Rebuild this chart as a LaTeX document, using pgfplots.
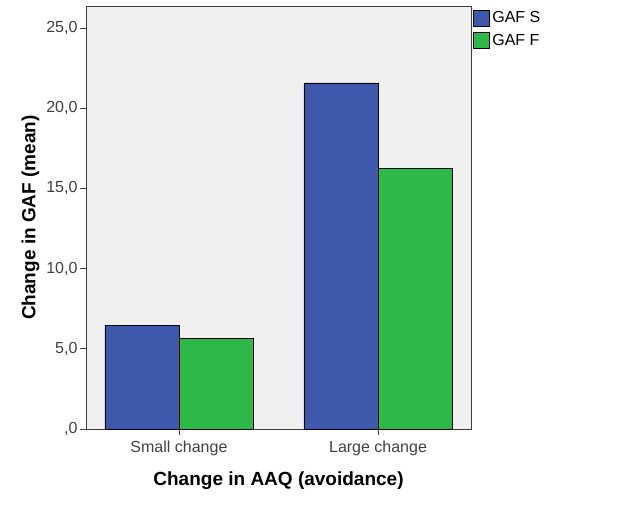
\documentclass[border=0pt]{standalone}
\usepackage{fontspec}
\setmainfont{Liberation Sans}
\usepackage{pgfplots}
\pgfplotsset{compat=1.18}
\definecolor{gafs}{HTML}{3E58AC}
\definecolor{gaff}{HTML}{2EB848}
\definecolor{bg}{HTML}{F0F0F0}
\definecolor{frame}{HTML}{3C3C3C}

\begin{document}
\begin{tikzpicture}[x=1pt,y=1pt]
\path[use as bounding box] (0,0) rectangle (629,504);
\begin{axis}[
    at={(86pt,75pt)}, anchor=south west,
    scale only axis,
    width=385pt, height=423pt,
    xmin=-0.467, xmax=1.467,
    ymin=0, ymax=26.37,
    xtick={0,1},
    xticklabels={Small change, Large change},
    ytick={0,5,10,15,20,25},
    yticklabels={{,0},{5,0},{10,0},{15,0},{20,0},{25,0}},
    tick style={frame, line width=0.8pt},
    major tick length=6pt,
    tick align=outside,
    xtick pos=bottom, ytick pos=left,
    axis line style={frame, line width=0.8pt},
    axis background/.style={fill=bg},
    ticklabel style={font=\fontsize{16}{18}\selectfont, text=black!75},
    yticklabel style={xshift=1pt},
    xticklabel style={yshift=-2pt},
    xlabel={Change in AAQ (avoidance)},
    ylabel={Change in GAF (mean)},
    label style={font=\fontsize{19}{21}\selectfont\bfseries},
    xlabel style={yshift=-9pt},
    ylabel style={yshift=0pt},
    ybar=0pt, bar width=0.372,
    legend style={at={(1.004,0.992)}, anchor=north west, draw=none, fill=none,
        font=\fontsize{16}{18}\selectfont, row sep=6pt,
        nodes={inner xsep=3pt},
        inner xsep=0pt, inner ysep=0pt},
    legend image code/.code={\draw[#1,draw=black,line width=0.6pt] (0pt,-8pt) rectangle (16pt,8pt);},
    legend cell align=left,
]
\addplot[fill=gafs, draw=black, line width=0.6pt] coordinates {(0,6.48) (1,21.57)};
\addplot[fill=gaff, draw=black, line width=0.6pt] coordinates {(0,5.67) (1,16.27)};
\legend{GAF S, GAF F}
\end{axis}
\end{tikzpicture}
\end{document}
